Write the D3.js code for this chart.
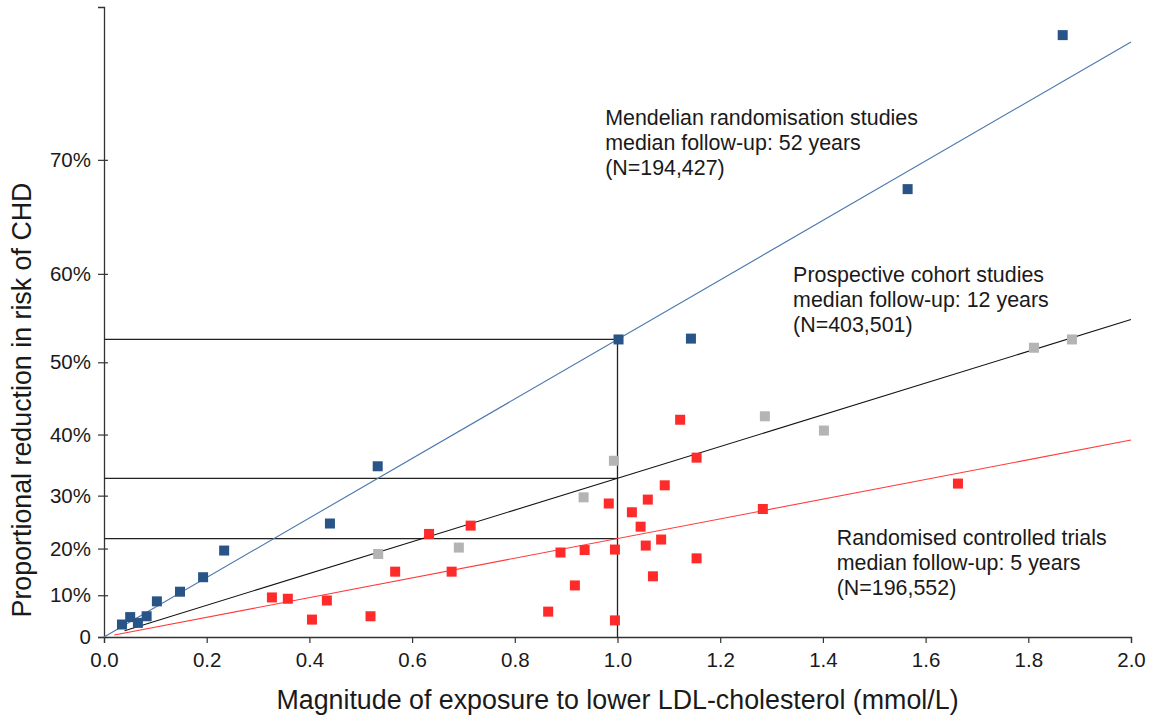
<!DOCTYPE html>
<html>
<head>
<meta charset="utf-8">
<script src="https://cdn.jsdelivr.net/npm/d3@7"></script>
<style>
    body { margin: 0; background: #fff; }
    text { font-family: "Liberation Sans", Arial, sans-serif; fill: #1a1a1a; }
</style>
</head>
<body>
<script>
// Data: [LDL-C lowering (mmol/L), proportional reduction in CHD risk (%)]
const mendelianPoints = [
    [0.035, 3.1], [0.051, 4.9], [0.066, 3.5], [0.083, 5.1], [0.103, 8.6],
    [0.148, 10.8], [0.193, 14.0], [0.234, 19.6], [0.440, 24.9], [0.533, 35.0],
    [1.002, 52.8], [1.143, 52.9], [1.565, 67.7], [1.867, 78.1]
];
const cohortPoints = [
    [0.534, 18.9], [0.691, 20.2], [0.934, 29.7], [0.993, 35.9],
    [1.287, 42.7], [1.402, 40.6], [1.811, 51.8], [1.885, 52.8]
];
const trialPoints = [
    [0.327, 9.5], [0.358, 9.2], [0.405, 4.3], [0.434, 8.8], [0.519, 5.1],
    [0.567, 15.2], [0.633, 22.9], [0.677, 15.2], [0.714, 24.5], [0.865, 6.2],
    [0.889, 19.2], [0.917, 12.2], [0.936, 19.7], [0.983, 28.6], [0.995, 19.8],
    [0.995, 4.1], [1.028, 27.0], [1.045, 24.3], [1.059, 29.3], [1.055, 20.6],
    [1.069, 14.2], [1.085, 21.8], [1.092, 31.8], [1.122, 42.2], [1.154, 36.4],
    [1.154, 18.0], [1.283, 27.6], [1.663, 32.1]
];

// Fitted effect per 1 mmol/L lower LDL-C (%), and where each line starts (mmol/L)
const fitEffect = [52.8, 33.0, 22.0];
const fitStart = [0, 0.04, 0.02];

const annotations = [
    ["Mendelian randomisation studies", "median follow-up: 52 years", "(N=194,427)"],
    ["Prospective cohort studies", "median follow-up: 12 years", "(N=403,501)"],
    ["Randomised controlled trials", "median follow-up: 5 years", "(N=196,552)"]
];
// where the first line of each label sits, in data units
const annotationAnchor = [[0.976, 72.5], [1.342, 59.2], [1.427, 20.7]];

const xTicks = [0, 0.2, 0.4, 0.6, 0.8, 1.0, 1.2, 1.4, 1.6, 1.8, 2.0];
const yTicks = [0, 10, 20, 30, 40, 50, 60, 70];
const yTopPct = 79.6;

const markColors = ["#285487", "#b4b4b4", "#ff2a2a"];
const lineColors = ["#4a78ad", "#111111", "#ff3b3b"];

const width = 1151;
const height = 719;
const margin = { top: 7, right: 20, bottom: 82, left: 104 };

const svg = d3.select("body").append("svg")
    .attr("width", width)
    .attr("height", height);

const x = d3.scaleLinear()
    .domain([0, 2])
    .range([margin.left, width - margin.right]);

// risk reduction is shown on a log(relative risk) scale
const y = d3.scaleLog()
    .domain([1, 1 - yTopPct / 100])
    .range([height - margin.bottom, margin.top]);
const yp = (p) => y(1 - p / 100);

// Axes
const xAxis = svg.append("g")
    .attr("transform", "translate(0," + (height - margin.bottom) + ")")
    .call(d3.axisBottom(x)
        .tickValues(xTicks)
        .tickFormat(d3.format(".1f"))
        .tickSizeOuter(0)
        .tickSize(6)
        .tickPadding(9));

const yAxis = svg.append("g")
    .attr("transform", "translate(" + margin.left + ",0)")
    .call(d3.axisLeft(y)
        .tickValues(yTicks.map(p => 1 - p / 100))
        .tickFormat(d => {
            const p = Math.round((1 - d) * 100);
            return p === 0 ? "0" : p + "%";
        })
        .tickSizeOuter(0)
        .tickSize(6)
        .tickPadding(7));
yAxis.selectAll(".tick line").attr("x1", 4);

[xAxis, yAxis].forEach(g => {
    g.select(".domain").attr("stroke", "#333").attr("stroke-width", 1.3);
    g.selectAll(".tick line").attr("stroke", "#333").attr("stroke-width", 1.2);
    g.selectAll(".tick text")
        .attr("font-size", 20.5)
        .attr("font-family", "Liberation Sans, Arial, sans-serif")
        .attr("fill", "#1a1a1a");
});

svg.append("text")
    .attr("x", (x(0) + x(2)) / 2)
    .attr("y", 709)
    .attr("text-anchor", "middle")
    .attr("font-size", 26.8)
    .text("Magnitude of exposure to lower LDL-cholesterol (mmol/L)");

svg.append("text")
    .attr("transform", "translate(31,400) rotate(-90)")
    .attr("text-anchor", "middle")
    .attr("font-size", 26.8)
    .text("Proportional reduction in risk of CHD");

// Fitted lines (straight on the log scale)
const logEff = fitEffect.map(p => -Math.log(1 - p / 100));
const fitValue = (i, d) => 100 * (1 - Math.exp(-logEff[i] * d));

const plot = svg.append("g");

// reference lines at 1 mmol/L
plot.selectAll(".ref-h")
    .data(fitEffect)
    .join("line")
    .attr("class", "ref-h")
    .attr("x1", x(0))
    .attr("x2", x(1))
    .attr("y1", d => yp(d))
    .attr("y2", d => yp(d))
    .attr("stroke", "#222")
    .attr("stroke-width", 1.3);

plot.append("line")
    .attr("x1", x(1))
    .attr("x2", x(1))
    .attr("y1", yp(fitEffect[0]))
    .attr("y2", yp(0))
    .attr("stroke", "#222")
    .attr("stroke-width", 1.3);

plot.selectAll(".fit")
    .data(fitEffect)
    .join("line")
    .attr("class", "fit")
    .attr("x1", (d, i) => x(fitStart[i]))
    .attr("y1", (d, i) => yp(fitValue(i, fitStart[i])))
    .attr("x2", x(2))
    .attr("y2", (d, i) => yp(fitValue(i, 2)))
    .attr("stroke", (d, i) => lineColors[i])
    .attr("stroke-width", 1.1);

// Points
const sq = 10;
[mendelianPoints, cohortPoints, trialPoints].forEach((pts, i) => {
    plot.append("g")
        .selectAll("rect")
        .data(pts)
        .join("rect")
        .attr("x", d => x(d[0]) - sq / 2)
        .attr("y", d => yp(d[1]) - sq / 2)
        .attr("width", sq)
        .attr("height", sq)
        .attr("fill", markColors[i]);
});

// Labels
annotations.forEach((lines, i) => {
    const t = svg.append("text")
        .attr("x", x(annotationAnchor[i][0]))
        .attr("y", yp(annotationAnchor[i][1]))
        .attr("font-size", 21.4);
    lines.forEach((s, j) => {
        t.append("tspan")
            .attr("x", x(annotationAnchor[i][0]))
            .attr("dy", j === 0 ? 0 : 25)
            .text(s);
    });
});
</script>
</body>
</html>
